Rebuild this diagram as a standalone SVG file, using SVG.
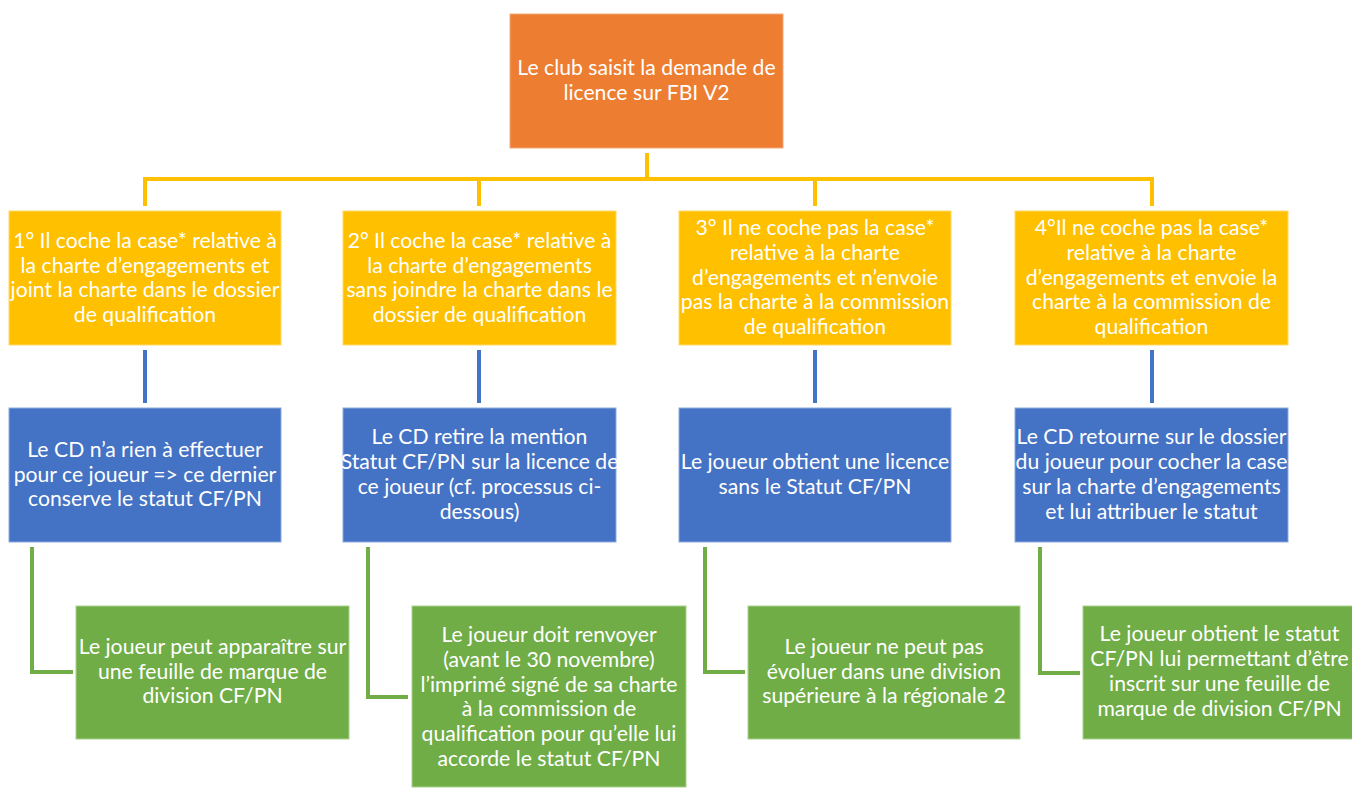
<svg xmlns="http://www.w3.org/2000/svg" width="1352" height="788" viewBox="0 0 1352 788">
<style>
.t{font-family:Lato,"Open Sans","Liberation Sans",sans-serif;font-size:21.2px;fill:#fff;text-anchor:middle}
.or{fill:#ED7D31;stroke:#F4A979;stroke-width:1}
.ye{fill:#FFC000;stroke:#FFD966;stroke-width:1}
.bl{fill:#4472C4;stroke:#8FAADC;stroke-width:1}
.gr{fill:#70AD47;stroke:#A9D18E;stroke-width:1}
.cy{stroke:#FFC000;stroke-width:4;fill:none}
.cb{stroke:#4472C4;stroke-width:4;fill:none}
.cg{stroke:#70AD47;stroke-width:4;fill:none}
</style>
<rect width="1352" height="788" fill="#fff"/>
<g id="connectors">
<path class="cy" d="M647,153V179M143,179H1154M145,179V206M479,179V206M815,179V206M1152,179V206"/>
<path class="cb" d="M145,350V403M479,350V403M815,350V403M1152,350V403"/>
<path class="cg" d="M32,547V672H73M368,547V697H408M705,547V672H745M1040,547V673H1080"/>
</g>
<g id="root">
<rect class="or" x="510" y="14" width="273" height="134"/>
<text class="t" x="646.5"><tspan x="646.5" y="75">Le club saisit la demande de</tspan><tspan x="646.5" y="100">licence sur FBI V2</tspan></text>
</g>
<g id="case1">
<rect class="ye" x="9" y="211" width="272" height="134"/>
<text class="t"><tspan x="145" y="248">1° Il coche la case* relative à</tspan><tspan x="145" y="273">la charte d’engagements et</tspan><tspan x="145" y="297">joint la charte dans le dossier</tspan><tspan x="145" y="322">de qualification</tspan></text>
</g>
<g id="case2">
<rect class="ye" x="343" y="211" width="273" height="134"/>
<text class="t"><tspan x="479.5" y="248">2° Il coche la case* relative à</tspan><tspan x="479.5" y="273">la charte d’engagements</tspan><tspan x="479.5" y="297">sans joindre la charte dans le</tspan><tspan x="479.5" y="322">dossier de qualification</tspan></text>
</g>
<g id="case3">
<rect class="ye" x="679" y="211" width="272" height="134"/>
<text class="t"><tspan x="815" y="235">3° Il ne coche pas la case*</tspan><tspan x="815" y="260">relative à la charte</tspan><tspan x="815" y="285">d’engagements et n’envoie</tspan><tspan x="815" y="309">pas la charte à la commission</tspan><tspan x="815" y="334">de qualification</tspan></text>
</g>
<g id="case4">
<rect class="ye" x="1015" y="211" width="273" height="134"/>
<text class="t"><tspan x="1151.5" y="235">4°Il ne coche pas la case*</tspan><tspan x="1151.5" y="260">relative à la charte</tspan><tspan x="1151.5" y="285">d’engagements et envoie la</tspan><tspan x="1151.5" y="309">charte à la commission de</tspan><tspan x="1151.5" y="334">qualification</tspan></text>
</g>
<g id="cd1">
<rect class="bl" x="9" y="408" width="272" height="134"/>
<text class="t"><tspan x="145" y="457">Le CD n’a rien à effectuer</tspan><tspan x="145" y="482">pour ce joueur =&gt; ce dernier</tspan><tspan x="145" y="506">conserve le statut CF/PN</tspan></text>
</g>
<g id="cd2">
<rect class="bl" x="343" y="408" width="273" height="134"/>
<text class="t"><tspan x="479.5" y="444">Le CD retire la mention</tspan><tspan x="479.5" y="469">Statut CF/PN sur la licence de</tspan><tspan x="479.5" y="494">ce joueur (cf. processus ci-</tspan><tspan x="479.5" y="519">dessous)</tspan></text>
</g>
<g id="cd3">
<rect class="bl" x="679" y="408" width="272" height="134"/>
<text class="t"><tspan x="815" y="469">Le joueur obtient une licence</tspan><tspan x="815" y="494">sans le Statut CF/PN</tspan></text>
</g>
<g id="cd4">
<rect class="bl" x="1015" y="408" width="273" height="134"/>
<text class="t"><tspan x="1151.5" y="444">Le CD retourne sur le dossier</tspan><tspan x="1151.5" y="469">du joueur pour cocher la case</tspan><tspan x="1151.5" y="494">sur la charte d’engagements</tspan><tspan x="1151.5" y="519">et lui attribuer le statut</tspan></text>
</g>
<g id="res1">
<rect class="gr" x="76" y="606" width="273" height="133"/>
<text class="t"><tspan x="212.5" y="654">Le joueur peut apparaître sur</tspan><tspan x="212.5" y="679">une feuille de marque de</tspan><tspan x="212.5" y="703">division CF/PN</tspan></text>
</g>
<g id="res2">
<rect class="gr" x="412" y="606" width="274" height="181"/>
<text class="t"><tspan x="549" y="642">Le joueur doit renvoyer</tspan><tspan x="549" y="667">(avant le 30 novembre)</tspan><tspan x="549" y="692">l’imprimé signé de sa charte</tspan><tspan x="549" y="716">à la commission de</tspan><tspan x="549" y="741">qualification pour qu’elle lui</tspan><tspan x="549" y="766">accorde le statut CF/PN</tspan></text>
</g>
<g id="res3">
<rect class="gr" x="748" y="606" width="272" height="133"/>
<text class="t"><tspan x="884" y="654">Le joueur ne peut pas</tspan><tspan x="884" y="679">évoluer dans une division</tspan><tspan x="884" y="703">supérieure à la régionale 2</tspan></text>
</g>
<g id="res4">
<rect class="gr" x="1083" y="606" width="273" height="133"/>
<text class="t"><tspan x="1219.5" y="641">Le joueur obtient le statut</tspan><tspan x="1219.5" y="666">CF/PN lui permettant d’être</tspan><tspan x="1219.5" y="691">inscrit sur une feuille de</tspan><tspan x="1219.5" y="716">marque de division CF/PN</tspan></text>
</g>
</svg>
